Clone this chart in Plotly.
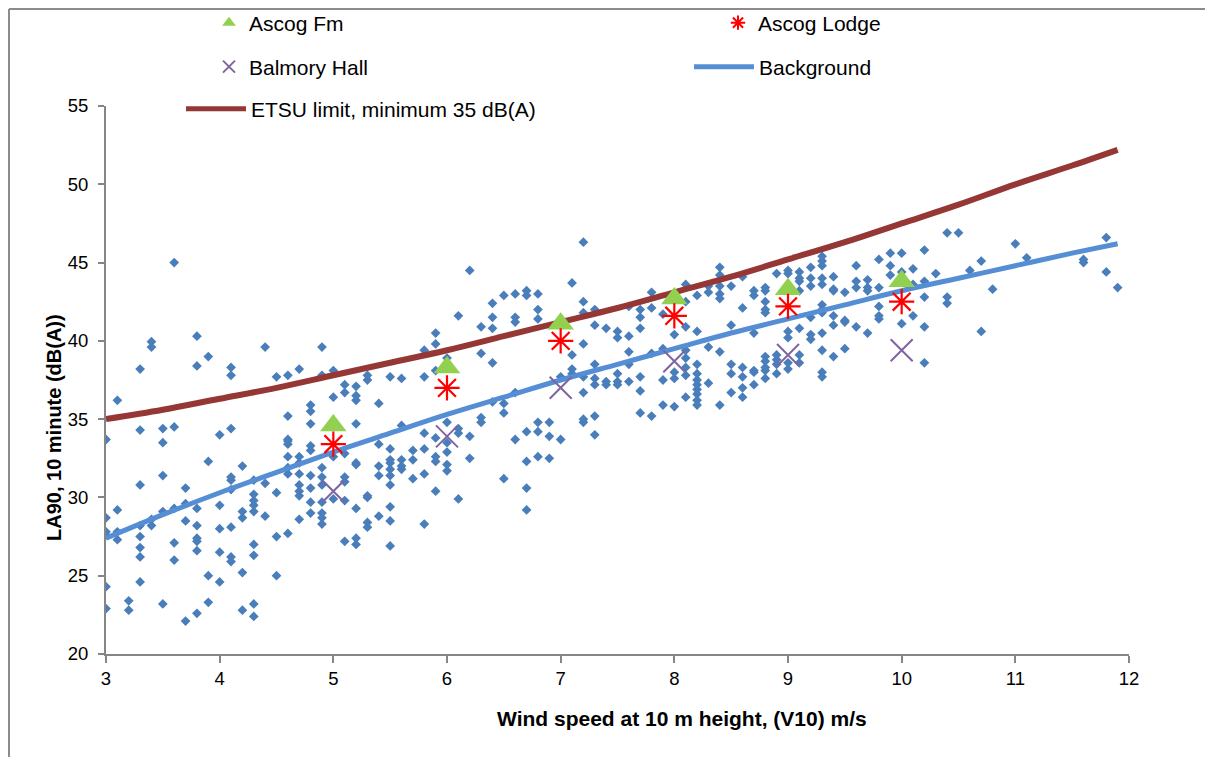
import plotly.graph_objects as go

# ---------------- data ----------------
# background measurements (wind speed m/s, LA90 dB(A))
bg_columns = [
    (3.0, [33.7, 28.7, 27.8, 27.6, 24.3, 22.9]),
    (3.1, [36.2, 29.2, 27.8, 27.3]),
    (3.2, [23.4, 22.8]),
    (3.3, [38.2, 34.3, 30.8, 28.2, 27.5, 26.8, 26.2, 24.6]),
    (3.4, [39.95, 39.6, 28.6, 28.2]),
    (3.5, [34.4, 33.5, 31.4, 29.1, 23.2]),
    (3.6, [45.0, 34.5, 29.3, 27.1, 26.0]),
    (3.7, [30.6, 29.6, 28.5, 22.1]),
    (3.8, [40.3, 38.4, 29.3, 28.2, 27.4, 27.2, 26.6, 22.6]),
    (3.9, [39.0, 32.3, 25.0, 23.3]),
    (4.0, [34.0, 29.5, 28.0, 26.5, 24.6]),
    (4.1, [38.3, 37.8, 34.4, 31.3, 31.1, 30.5, 28.1, 26.2, 25.9]),
    (4.2, [32.0, 29.1, 28.7, 25.2, 22.8]),
    (4.3, [31.1, 30.2, 29.8, 29.5, 29.1, 27.0, 26.3, 23.2, 22.4]),
    (4.4, [39.6, 30.9, 28.8]),
    (4.5, [37.7, 30.3, 27.5, 25.0]),
    (4.6, [37.8, 35.2, 33.7, 33.6, 33.4, 32.6, 31.9, 31.5, 27.7]),
    (4.7, [38.2, 32.6, 32.2, 31.5, 30.8, 30.4, 30.1, 28.6]),
    (4.8, [35.9, 35.5, 34.7, 33.3, 33.0, 31.4, 30.6, 29.7, 29.0]),
    (4.9, [39.6, 37.8, 31.9, 31.3, 30.8, 29.7, 29.0, 28.7, 28.3]),
    (5.0, [38.1, 36.4, 32.6, 29.9]),
    (5.1, [37.2, 36.7, 32.8, 31.3, 31.0, 29.8, 27.2]),
    (5.2, [37.1, 36.5, 36.2, 34.7, 32.2, 32.1, 29.3, 27.4, 27.0]),
    (5.3, [37.8, 37.5, 30.1, 30.0, 28.4, 28.1]),
    (5.4, [36.0, 33.4, 32.0, 31.4, 28.8]),
    (5.5, [37.7, 33.1, 32.4, 32.2, 31.8, 31.4, 30.8, 29.4, 28.5, 26.9]),
    (5.6, [37.6, 34.6, 32.4, 32.0, 31.8]),
    (5.7, [33.0, 32.4, 31.2]),
    (5.8, [39.4, 37.7, 34.1, 33.1, 31.5, 28.3]),
    (5.9, [40.5, 39.8, 38.1, 33.8, 32.6, 32.3, 30.4]),
    (6.0, [38.9, 34.8, 33.5, 32.9, 32.1, 31.7]),
    (6.1, [41.6, 34.4, 34.1, 29.9]),
    (6.2, [44.5, 33.9, 32.5]),
    (6.3, [40.9, 39.2, 35.1, 34.8]),
    (6.4, [42.4, 41.5, 40.8, 38.6, 36.1]),
    (6.5, [42.9, 36.0, 35.4, 31.2]),
    (6.6, [43.0, 41.5, 41.2, 36.7, 33.7]),
    (6.7, [43.2, 42.9, 34.2, 32.3, 30.6, 29.2]),
    (6.8, [43.0, 42.0, 41.4, 34.8, 34.2, 32.6]),
    (6.9, [34.8, 33.9, 32.5]),
    (7.0, [37.7, 33.7]),
    (7.1, [43.7, 39.1, 38.2, 37.9]),
    (7.2, [46.3, 42.5, 41.8, 39.8, 37.7, 36.7, 35.0, 34.8]),
    (7.3, [42.0, 41.0, 38.5, 37.6, 37.2, 35.2, 34.0]),
    (7.4, [40.8, 37.4, 37.2]),
    (7.5, [40.6, 40.2, 37.9, 37.4, 37.2]),
    (7.6, [42.2, 40.3, 39.3, 38.5, 37.4]),
    (7.7, [42.0, 41.5, 40.8, 37.7, 36.8, 35.4]),
    (7.8, [43.1, 42.1, 39.2, 35.2]),
    (7.9, [41.7, 39.5, 37.5, 35.9]),
    (8.0, [40.4, 38.0, 37.6, 35.8]),
    (8.1, [43.6, 42.5, 40.9, 39.4, 38.9, 38.3, 37.8, 36.4]),
    (8.2, [42.9, 40.6, 38.5, 37.9, 37.5, 37.2, 36.9, 36.6, 36.2, 35.9]),
    (8.3, [43.5, 43.1, 39.6, 37.3]),
    (8.4, [44.7, 44.2, 43.5, 43.0, 42.7, 39.3, 35.9]),
    (8.5, [43.5, 41.0, 38.5, 37.9, 36.7]),
    (8.6, [44.1, 42.1, 38.3, 37.7, 37.0, 36.4]),
    (8.7, [43.2, 42.9, 40.5, 38.1, 38.0, 37.2]),
    (8.8, [43.4, 43.2, 42.5, 42.0, 41.8, 39.0, 38.7, 38.3, 38.1, 37.6]),
    (8.9, [44.3, 39.1, 38.8, 38.5, 37.9]),
    (9.0, [44.5, 44.3, 40.6, 40.2, 38.6, 38.2]),
    (9.1, [44.4, 44.0, 43.8, 43.2, 40.8, 39.1, 38.6]),
    (9.2, [44.7, 44.0, 43.5, 41.5, 40.4, 40.1]),
    (9.3, [45.4, 45.1, 44.8, 44.0, 43.6, 42.3, 42.0, 41.8, 40.5, 39.4, 38.0, 37.7]),
    (9.4, [44.1, 43.3, 43.2, 41.6, 41.0, 39.0]),
    (9.5, [43.1, 41.3, 41.2, 39.5]),
    (9.6, [44.8, 43.8, 43.4, 40.9]),
    (9.7, [43.9, 43.4, 43.2, 40.5]),
    (9.8, [45.2, 43.4, 42.2, 41.6, 41.4]),
    (9.9, [45.6, 44.8, 44.2]),
    (10.0, [45.6, 44.4, 41.1]),
    (10.1, [44.6, 43.6, 41.6]),
    (10.2, [45.8, 43.8, 42.8, 40.9, 38.6]),
    (10.3, [44.3]),
    (10.4, [46.9, 42.8, 42.4]),
    (10.5, [46.9]),
    (10.6, [44.5]),
    (10.7, [45.1, 40.6]),
    (10.8, [43.3]),
    (11.0, [46.2]),
    (11.1, [45.3]),
    (11.6, [45.2, 45.0]),
    (11.8, [46.6, 44.4]),
    (11.9, [43.4]),
]
bg_wind = [w for w, ys in bg_columns for _ in ys]
bg_la90 = [y for _, ys in bg_columns for y in ys]

# fitted background curve and ETSU limit curve
curve_wind = [3.0, 3.5, 4.0, 4.5, 5.0, 5.5, 6.0, 6.5, 7.0, 7.5, 8.0, 8.5,
              9.0, 9.5, 10.0, 10.5, 11.0, 11.5, 11.9]
background_fit = [27.4, 28.9, 30.3, 31.6, 32.9, 34.1, 35.3, 36.4, 37.5, 38.5,
                  39.5, 40.5, 41.4, 42.3, 43.2, 44.0, 44.8, 45.6, 46.2]
etsu_limit = [35.0, 35.6, 36.3, 37.0, 37.8, 38.6, 39.4, 40.3, 41.2, 42.1,
              43.1, 44.1, 45.2, 46.3, 47.5, 48.7, 50.0, 51.2, 52.2]

# predicted turbine noise at receptors
rec_wind = [5, 6, 7, 8, 9, 10]
ascog_fm = [34.6, 38.3, 41.1, 42.7, 43.3, 43.8]
ascog_lodge = [33.4, 37.0, 40.0, 41.6, 42.2, 42.5]
balmory_hall = [30.4, 33.9, 37.0, 38.7, 39.1, 39.4]

x_ticks = [3, 4, 5, 6, 7, 8, 9, 10, 11, 12]
y_ticks = [20, 25, 30, 35, 40, 45, 50, 55]

FONT = "Liberation Sans, Arial, sans-serif"
W, H = 1205, 749
L, R, T, B = 98, 84, 98, 103
PW, PH = W - L - R, H - T - B

fig = go.Figure()
fig.add_trace(go.Scatter(
    x=bg_wind, y=bg_la90, mode="markers", showlegend=False,
    marker=dict(symbol="diamond", size=7.5, color="#4A7EBB"), name="Measured"))
fig.add_trace(go.Scatter(
    x=curve_wind, y=background_fit, mode="lines", name="Background",
    line=dict(color="#558ED5", width=5, shape="spline"), legend="legend4"))
fig.add_trace(go.Scatter(
    x=curve_wind, y=etsu_limit, mode="lines", name="ETSU limit, minimum 35 dB(A)",
    line=dict(color="#953735", width=6, shape="spline"), legend="legend5"))
fig.add_trace(go.Scatter(
    x=rec_wind, y=ascog_fm, mode="markers", name="Ascog Fm",
    marker=dict(symbol="triangle-up", size=23, color="#92D050"), legend="legend"))
fig.add_trace(go.Scatter(
    x=rec_wind, y=ascog_lodge, mode="markers", name="Ascog Lodge",
    marker=dict(symbol="asterisk-open", size=21, color="#FF0000",
                line=dict(color="#FF0000", width=2.2)), legend="legend2"))
fig.add_trace(go.Scatter(
    x=rec_wind, y=balmory_hall, mode="markers", name="Balmory Hall",
    marker=dict(symbol="x-thin-open", size=22, color="#8064A2",
                line=dict(color="#8064A2", width=2)), legend="legend3"))


def leg(xpx, ypx, itemwidth=30):
    return dict(xref="container", yref="container", x=xpx / W, y=1 - ypx / H,
                xanchor="left", yanchor="middle", orientation="h",
                bgcolor="rgba(0,0,0,0)", itemwidth=itemwidth, itemsizing="constant",
                font=dict(family=FONT, size=21, color="#000"))


fig.update_layout(
    width=W, height=H,
    margin=dict(l=L, r=R, t=T, b=B, autoexpand=False),
    paper_bgcolor="white", plot_bgcolor="white",
    font=dict(family=FONT, size=18, color="#000"),
    legend=leg(201, 15),
    legend2=leg(710, 15),
    legend3=leg(201, 59),
    legend4=leg(681, 59, itemwidth=60),
    legend5=leg(173, 101, itemwidth=60),
    xaxis=dict(range=[3, 12], tickvals=x_ticks, showgrid=False, zeroline=False,
               showline=True, linecolor="#868686", linewidth=2,
               ticks="outside", ticklen=7, tickcolor="#868686", tickwidth=2,
               tickfont=dict(family=FONT, size=18.5, color="#000")),
    yaxis=dict(range=[20, 55], tickvals=y_ticks, showgrid=False, zeroline=False,
               showline=True, linecolor="#868686", linewidth=2,
               ticks="outside", ticklen=6, tickcolor="#868686", tickwidth=2,
               ticklabelstandoff=6,
               tickfont=dict(family=FONT, size=18.5, color="#000")),
)

# axis titles (placed as in the original chart)
fig.add_annotation(text="<b>Wind speed at 10 m height, (V10) m/s</b>",
                   xref="paper", yref="paper", x=(674 - L) / PW, y=(T + PH - 710) / PH,
                   showarrow=False, xanchor="center", yanchor="middle",
                   font=dict(family=FONT, size=21, color="#000"))
fig.add_annotation(text="<b>LA90, 10 minute (dB(A))</b>", textangle=-90,
                   xref="paper", yref="paper", x=(46 - L) / PW, y=(T + PH - 420) / PH,
                   showarrow=False, xanchor="center", yanchor="middle",
                   font=dict(family=FONT, size=20, color="#000"))

# chart frame (left and top edges visible)
fx = (1 - L) / PW
fy = (T + PH - 1) / PH
fig.add_shape(type="line", xref="paper", yref="paper", x0=fx, x1=fx, y0=-0.3, y1=fy,
              line=dict(color="#8C8C8C", width=2))
fig.add_shape(type="line", xref="paper", yref="paper", x0=fx, x1=(W - L) / PW, y0=fy, y1=fy,
              line=dict(color="#8C8C8C", width=2))

fig.write_html("out.html")
